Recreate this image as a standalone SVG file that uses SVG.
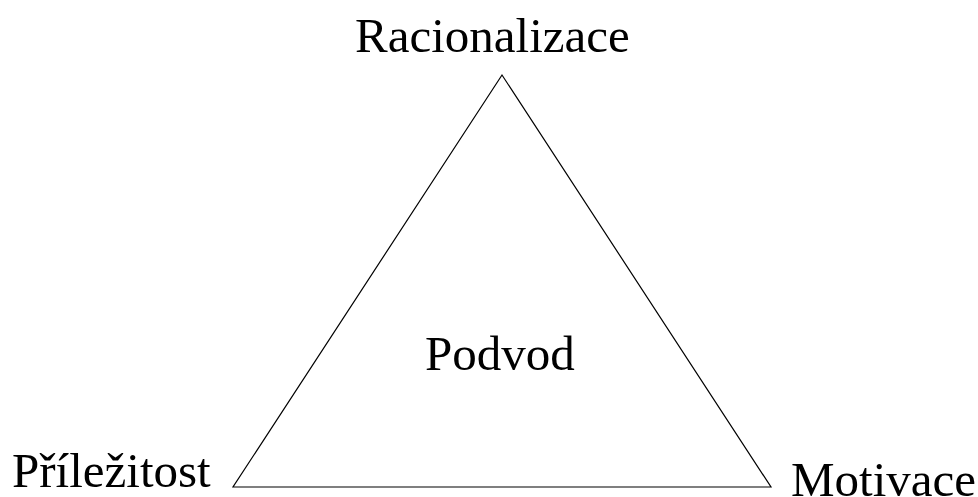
<svg xmlns="http://www.w3.org/2000/svg" width="978" height="497" viewBox="0 0 978 497">
<style>
text{font-family:"Liberation Serif","Times New Roman",serif;font-size:49px;fill:#000}
.edge{fill:none;stroke:#000;stroke-width:1.2}
</style>
<rect width="978" height="497" fill="#fff"/>
<g id="connectors">
<polygon class="edge" points="502,75 233,487 771,487"/>
</g>
<g id="racionalizace"><text x="355" y="52">Racionalizace</text></g>
<g id="podvod"><text x="425" y="370">Podvod</text></g>
<g id="prilezitost"><text x="12" y="487">Příležitost</text></g>
<g id="motivace"><text x="791" y="496">Motivace</text></g>
</svg>
